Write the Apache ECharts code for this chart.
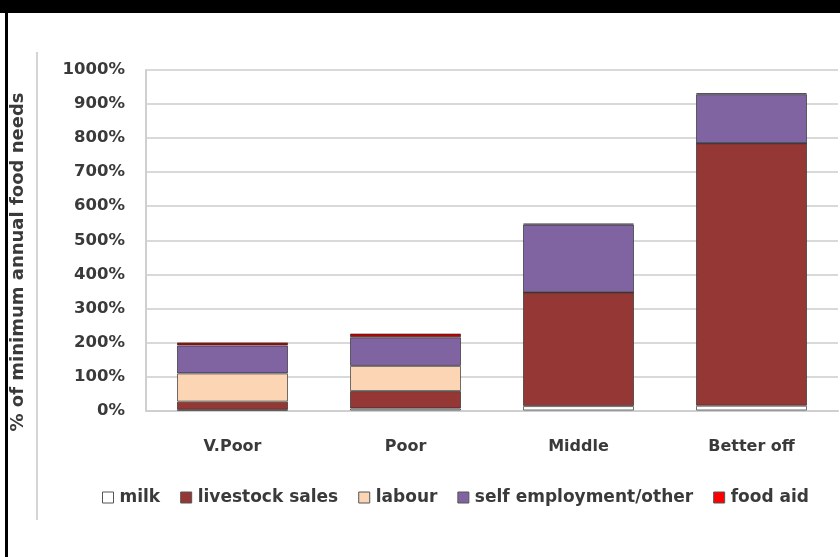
<!DOCTYPE html>
<html>
<head>
<meta charset="utf-8">
<style>
  html, body { margin: 0; padding: 0; background: #fff; }
  #chart { width: 840px; height: 557px; }
</style>
<script src="https://cdn.jsdelivr.net/npm/echarts@6/dist/echarts.min.js"></script>
</head>
<body>
<div id="chart"></div>
<script>
const groups = ["V.Poor", "Poor", "Middle", "Better off"];
const milk = [2, 6, 13, 14];
const livestockSales = [24, 51, 334, 771];
const labour = [83, 74, 0, 0];
const selfEmployment = [82, 84, 199, 144];
const foodAid = [9, 11, 3, 3];
const yTicks = [0, 100, 200, 300, 400, 500, 600, 700, 800, 900, 1000];

const txt = "#3a3a3a";
const font = "DejaVu Sans";

function stackBar(name, data, color) {
  return {
    name: name,
    type: "bar",
    stack: "total",
    data: data,
    barWidth: 111,
    itemStyle: {
      color: color,
      borderColor: "rgba(40,40,40,0.65)",
      borderWidth: 1,
    },
  };
}

let chart = echarts.init(document.getElementById("chart"));
chart.setOption({
  animation: false,
  grid: { left: 146, right: 2, top: 70, bottom: 146.5 },
  xAxis: {
    type: "category",
    data: groups,
    axisTick: { show: false },
    axisLine: { lineStyle: { color: "#cfcfcf", width: 2 } },
    axisLabel: {
      margin: 28,
      color: txt,
      fontFamily: font,
      fontWeight: "bold",
      fontSize: 16,
    },
  },
  yAxis: {
    type: "value",
    min: yTicks[0],
    max: yTicks[yTicks.length - 1],
    interval: 100,
    axisLine: { show: true, lineStyle: { color: "#cfcfcf", width: 2 } },
    axisTick: { show: false },
    splitLine: { lineStyle: { color: "#d9d9d9", width: 2 } },
    axisLabel: {
      margin: 21,
      color: txt,
      fontFamily: font,
      fontWeight: "bold",
      fontSize: 16.5,
      formatter: (v) => v + "%",
    },
  },
  legend: {
    left: 97,
    top: 484,
    itemWidth: 11,
    itemHeight: 11,
    itemGap: 20,
    icon: "rect",
    textStyle: {
      color: txt,
      fontFamily: font,
      fontWeight: "bold",
      fontSize: 17,
      padding: [0, 0, 0, 1],
    },
    data: [
      { name: "milk", itemStyle: { color: "#fff", borderColor: "#555", borderWidth: 1 } },
      { name: "livestock sales", itemStyle: { borderColor: "#555", borderWidth: 1 } },
      { name: "labour", itemStyle: { borderColor: "#555", borderWidth: 1 } },
      { name: "self employment/other", itemStyle: { borderColor: "#555", borderWidth: 1 } },
      { name: "food aid", itemStyle: { color: "#ff0000", borderColor: "#555", borderWidth: 1 } },
    ],
  },
  series: [
    stackBar("milk", milk, "#ffffff"),
    stackBar("livestock sales", livestockSales, "#953735"),
    stackBar("labour", labour, "#fcd5b5"),
    stackBar("self employment/other", selfEmployment, "#8064a2"),
    stackBar("food aid", foodAid, "#c00000"),
  ],
  graphic: [
    { type: "rect", shape: { x: 0, y: 0, width: 840, height: 13 }, style: { fill: "#000" } },
    { type: "rect", shape: { x: 5, y: 0, width: 3, height: 557 }, style: { fill: "#000" } },
    { type: "line", shape: { x1: 37, y1: 52, x2: 37, y2: 520 }, style: { stroke: "#d4d4d4", lineWidth: 2 } },
    {
      type: "text",
      x: 18,
      y: 262,
      rotation: Math.PI / 2,
      style: {
        text: "% of minimum annual food needs",
        fill: txt,
        font: "bold 18px DejaVu Sans",
        align: "center",
        verticalAlign: "middle",
      },
    },
  ],
});
</script>
</body>
</html>
